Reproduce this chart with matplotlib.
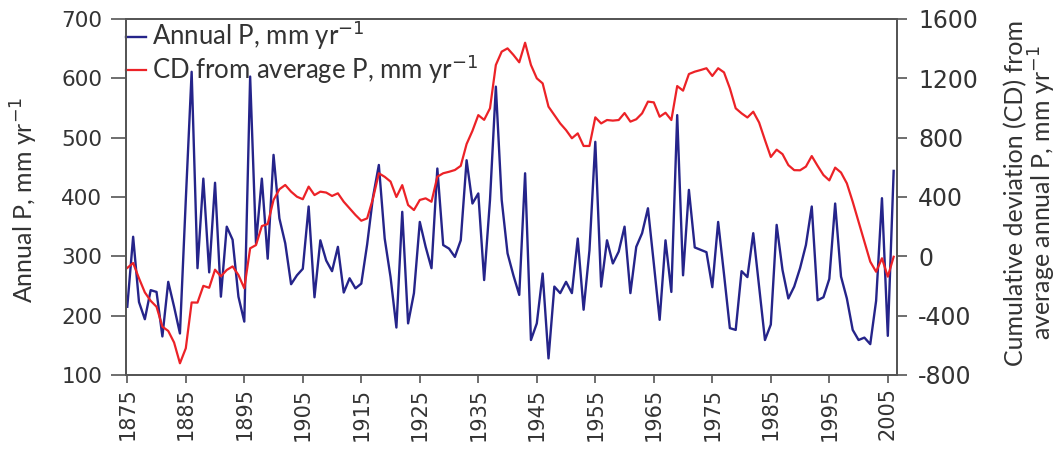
import matplotlib
matplotlib.use("Agg")
import matplotlib.pyplot as plt

plt.rcParams["axes.unicode_minus"] = False

# ---------------- data ----------------
years = list(range(1875, 2007))

annual_p = [
    215, 333, 223, 194, 243, 240, 165, 257, 215, 170,   # 1875-1884
    395, 611, 280, 431, 273, 424, 232, 350, 328, 232,   # 1885-1894
    190, 603, 322, 431, 296, 471, 364, 322, 253, 268,   # 1895-1904
    279, 384, 231, 327, 293, 275, 316, 239, 263, 246,   # 1905-1914
    254, 320, 400, 454, 330, 265, 180, 375, 187, 238,   # 1915-1924
    358, 316, 280, 448, 319, 313, 299, 327, 462, 389,   # 1925-1934
    406, 260, 395, 586, 395, 305, 268, 235, 440, 159,   # 1935-1944
    187, 271, 128, 249, 238, 257, 238, 330, 210, 310,   # 1945-1954
    493, 249, 327, 288, 308, 350, 238, 316, 339, 381,   # 1955-1964
    288, 193, 327, 240, 538, 268, 412, 315, 311, 307,   # 1965-1974
    248, 358, 270, 179, 176, 275, 265, 339, 249, 159,   # 1975-1984
    185, 353, 277, 229, 249, 280, 319, 384, 226, 231,   # 1985-1994
    262, 389, 266, 229, 176, 159, 163, 152, 225, 398,   # 1995-2004
    166, 444,                                           # 2005-2006
]

cd_from_average = [
    -78, -45, -148, -243, -300, -340, -474, -503, -581, -721,   # 1875-1884
    -620, -311, -312, -199, -212, -90, -135, -92, -68, -126,    # 1885-1894
    -215, 54, 76, 204, 218, 380, 452, 481, 436, 402,            # 1895-1904
    385, 470, 413, 436, 430, 407, 425, 368, 324, 279,           # 1905-1914
    240, 256, 390, 560, 536, 504, 400, 480, 346, 312,           # 1915-1924
    380, 391, 368, 537, 560, 570, 582, 610, 757, 846,           # 1925-1934
    952, 920, 998, 1290, 1380, 1402, 1358, 1308, 1440, 1290,    # 1935-1944
    1200, 1166, 1009, 953, 896, 851, 796, 829, 744, 744,        # 1945-1954
    937, 896, 919, 915, 919, 966, 908, 924, 964, 1043,          # 1955-1964
    1038, 941, 968, 919, 1148, 1117, 1229, 1245, 1256, 1268,    # 1965-1974
    1216, 1268, 1240, 1133, 998, 964, 936, 975, 902, 784,       # 1975-1984
    670, 719, 689, 615, 581, 580, 605, 676, 610, 548,           # 1985-1994
    512, 598, 565, 492, 368, 234, 99, -36, -104, -13,           # 1995-2004
    -137, -3,                                                   # 2005-2006
]

x_tick_years = list(range(1875, 2006, 10))
left_ticks = [100, 200, 300, 400, 500, 600, 700]
right_ticks = [-800, -400, 0, 400, 800, 1200, 1600]

series_labels = ["Annual P, mm yr$^{-1}$", "CD from average P, mm yr$^{-1}$"]
left_label = "Annual P, mm yr$^{-1}$"
right_label = "Cumulative deviation (CD) from\naverage annual P, mm yr$^{-1}$"

# ---------------- style ----------------
BLUE = "#25248a"
RED = "#ec2227"
FRAME = "#555555"
TXT = "#333333"
LABEL_FONT = ["Lato", "DejaVu Sans"]

W, H = 1062, 459
fig = plt.figure(figsize=(W / 100, H / 100), dpi=100)
fig.patch.set_facecolor("white")

ax_left, ax_right, ax_top, ax_bot = 126, 896.7, 19, 375
ax = fig.add_axes([ax_left / W, 1 - ax_bot / H,
                   (ax_right - ax_left) / W, (ax_bot - ax_top) / H])
ax2 = ax.twinx()

l1, = ax.plot(years, annual_p, color=BLUE, lw=1.7)
l2, = ax2.plot(years, cd_from_average, color=RED, lw=1.6)

ax.set_xlim(1874.78, 2006.52)
ax.set_ylim(100, 700)
ax2.set_ylim(-800, 1600)

ax.set_xticks(x_tick_years)
ax.set_xticklabels([str(y) for y in x_tick_years], rotation=90)
ax.set_yticks(left_ticks)
ax2.set_yticks(right_ticks)

for a in (ax, ax2):
    for s in a.spines.values():
        s.set_color(FRAME)
        s.set_linewidth(1.3)

ax.tick_params(axis="x", direction="out", length=6, width=1.2, color=FRAME,
               labelsize=15, labelcolor=TXT, pad=3)
ax.tick_params(axis="y", direction="out", length=11, width=1.2, color=FRAME,
               labelsize=15.5, labelcolor=TXT, pad=6)
ax2.tick_params(axis="y", direction="out", length=7.5, width=1.2, color=FRAME,
                labelsize=17, labelcolor=TXT, pad=8)

ax.set_ylabel(left_label, fontsize=18, family=LABEL_FONT, color=TXT)
ax.yaxis.set_label_coords((40 - ax_left) / (ax_right - ax_left),
                          (ax_bot - 200) / (ax_bot - ax_top))
ax2.set_ylabel(right_label, fontsize=18, family=LABEL_FONT, color=TXT,
               linespacing=1.0)
ax2.yaxis.set_label_coords((1004 - ax_left) / (ax_right - ax_left),
                           (ax_bot - 193) / (ax_bot - ax_top))

leg = ax.legend([l1, l2], series_labels, loc="upper left",
                bbox_to_anchor=(0.0, 1.0), frameon=False,
                prop={"family": LABEL_FONT, "size": 18.5},
                handlelength=0.78, handletextpad=0.25, labelspacing=0.0,
                borderpad=0.0, borderaxespad=0.0)
for t in leg.get_texts():
    t.set_color(TXT)

fig.savefig("out.png", dpi=100, facecolor="white")
